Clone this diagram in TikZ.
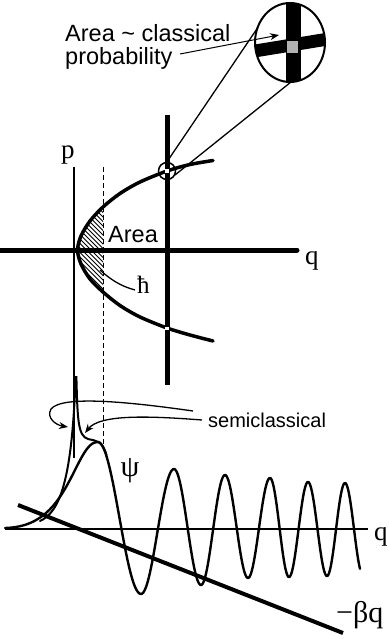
\documentclass[tikz,border=0pt]{standalone}
\usepackage{fontspec}
\setmainfont{Liberation Serif}
\setsansfont{Liberation Sans}
\usetikzlibrary{arrows.meta}
\begin{document}
\begin{tikzpicture}[x=1pt,y=-1pt,
  sanslbl/.style={font=\sffamily\fontsize{23.5}{28}\selectfont, inner sep=0pt},
  semilbl/.style={font=\sffamily\fontsize{20}{24}\selectfont, inner sep=0pt},
  seriflbl/.style={font=\fontsize{27}{32}\selectfont, inner sep=0pt},
  thickaxis/.style={line width=5pt},
  thinaxis/.style={line width=1.5pt},
  orbit/.style={line width=3.5pt, line cap=round},
  psiline/.style={line width=2.4pt, line cap=round},
  semiline/.style={line width=2pt, line cap=round},
  pointer/.style={line width=1.3pt},
  tipped/.style={-{Stealth[length=9pt,width=7pt]}}
]
\useasboundingbox (0,0) rectangle (388,639);

% ---------- phase space ----------
\def\orbitpts{(213,160.5) (190,164.5) (167,171) (140,182) (120,193.5) (103,207) (90,221) (81,236) (77.5,250) (81,264) (90,279) (103,292) (120,305.5) (140,317) (167,328) (190,335) (213,341)}

% hatching
\begin{scope}
  \clip (0,0) rectangle (103,639);
  \clip plot[smooth] coordinates {\orbitpts} -- cycle;
  \foreach \k in {120,124.5,...,300} \draw[line width=0.9pt] (60,\k) -- (120,\k+60);
\end{scope}

\draw[thickaxis, line cap=round] (-5,250) -- (297,250);
\draw[thickaxis] (167,115) -- (167,385);
\draw[thinaxis] (74,167) -- (74,458);
\draw[line width=1pt, dash pattern=on 5pt off 3pt] (103,167) -- (103,445);

\draw[orbit] plot[smooth] coordinates {\orbitpts};

% white gaps at the crossings
\fill[white] (165.3,169) rectangle (168.8,173);
\fill[white] (165.3,326.5) rectangle (168.8,330);

\node[circle, draw, line width=1.5pt, minimum size=17pt, inner sep=0pt] (small) at (167,171) {};

% labels in phase space
\node[seriflbl, anchor=base west] (plbl) at (61,158.5) {p};
\node[seriflbl, anchor=base west] (qlbl) at (305,264.5) {q};
\node[sanslbl, anchor=base west] (arealbl) at (108,242) {Area};
\node[font=\fontsize{25}{30}\selectfont, inner sep=0pt, anchor=base west] (hbar) at (137,293) {ħ};
\coordinate (hbarfrom) at (135,290);
\coordinate (hbarto) at (100,270);
\draw[pointer] (hbarfrom) .. controls (120,286) and (110,279) .. (hbarto);

% ---------- magnifier ----------
\coordinate (mag) at (290,42.5);
\begin{scope}
  \clip (mag) ellipse [x radius=35, y radius=39.5];
  \fill (285.5,0) rectangle (300.5,90);
  \fill (250,45.3) -- (330,32.2) -- (330,45.2) -- (250,58.3) -- cycle;
  \fill[gray!60] (287,41) rectangle (297.5,53);
\end{scope}
\draw[line width=2pt] (mag) ellipse [x radius=35, y radius=39.5];

\coordinate (bigA) at (257.5,28);
\coordinate (bigB) at (291,82);
\coordinate (smA) at (166.5,162.5);
\coordinate (smB) at (175,175);
\draw[pointer] (smA) -- (bigA);
\draw[pointer] (smB) -- (bigB);

\node[sanslbl, anchor=base west] (cl1) at (65,42) {Area \textasciitilde{} classical};
\node[sanslbl, anchor=base west] (cl2) at (65,65) {probability};
\coordinate (cltip) at (279,35);
\draw[line width=1pt, tipped] (180,54) -- (cltip);

% ---------- wavefunction ----------
\draw[line width=2pt] (5,529) -- (368,529);
\node[seriflbl, anchor=base west] (q2lbl) at (374,540) {q};

\coordinate (bqa) at (18,505);
\coordinate (bqb) at (343,633);
\draw[line width=4pt] (bqa) -- (bqb);
\node[font=\fontsize{30}{34}\selectfont, inner sep=0pt, anchor=base west] (bqlbl) at (336,622) {−βq};

% psi: rising part
\draw[psiline] (5,528) .. controls (45,527) and (60,500) .. (75,470) .. controls (85,450) and (90,442) .. (98,442);
% psi: oscillations as half-cosine pieces
\foreach \xa/\ya/\xb/\yb in {98/442/141/594, 141/594/174/469, 174/469/201/585, 201/585/225/475, 225/475/248/578, 248/578/270/478, 270/478/289/577, 289/577/308/482, 308/482/327/576, 327/576/345/483}
  \draw[psiline] plot[domain=0:1, samples=30, variable=\t] ({\xa+\t*(\xb-\xa)}, {(\ya+\yb)/2-(\yb-\ya)/2*cos(180*\t)});
\draw[psiline] plot[domain=0:0.833, samples=20, variable=\t] ({345+\t*18}, {529-46*cos(180*\t)});

\node[font=\fontsize{30}{34}\selectfont, inner sep=0pt] (psilbl) at (130,471) {ψ};

% semiclassical
\draw[semiline] (40,521) .. controls (60,512) and (72,480) .. (75.6,377)
  -- (76.4,377) .. controls (77.5,420) and (78,436) .. (88,439)
  .. controls (96,441) and (102,440) .. (106.5,455);

\node[semilbl, anchor=base west] (semilbl) at (208,427.5) {semiclassical};
\coordinate (sc1) at (68,427);
\coordinate (sc2) at (85,433);
\draw[pointer, tipped] (193,411) .. controls (130,402) and (62,395) .. (51,409) .. controls (46,418) and (56,425) .. (sc1);
\draw[pointer, tipped] (202,420) .. controls (150,416) and (100,414) .. (sc2);
\end{tikzpicture}
\end{document}
